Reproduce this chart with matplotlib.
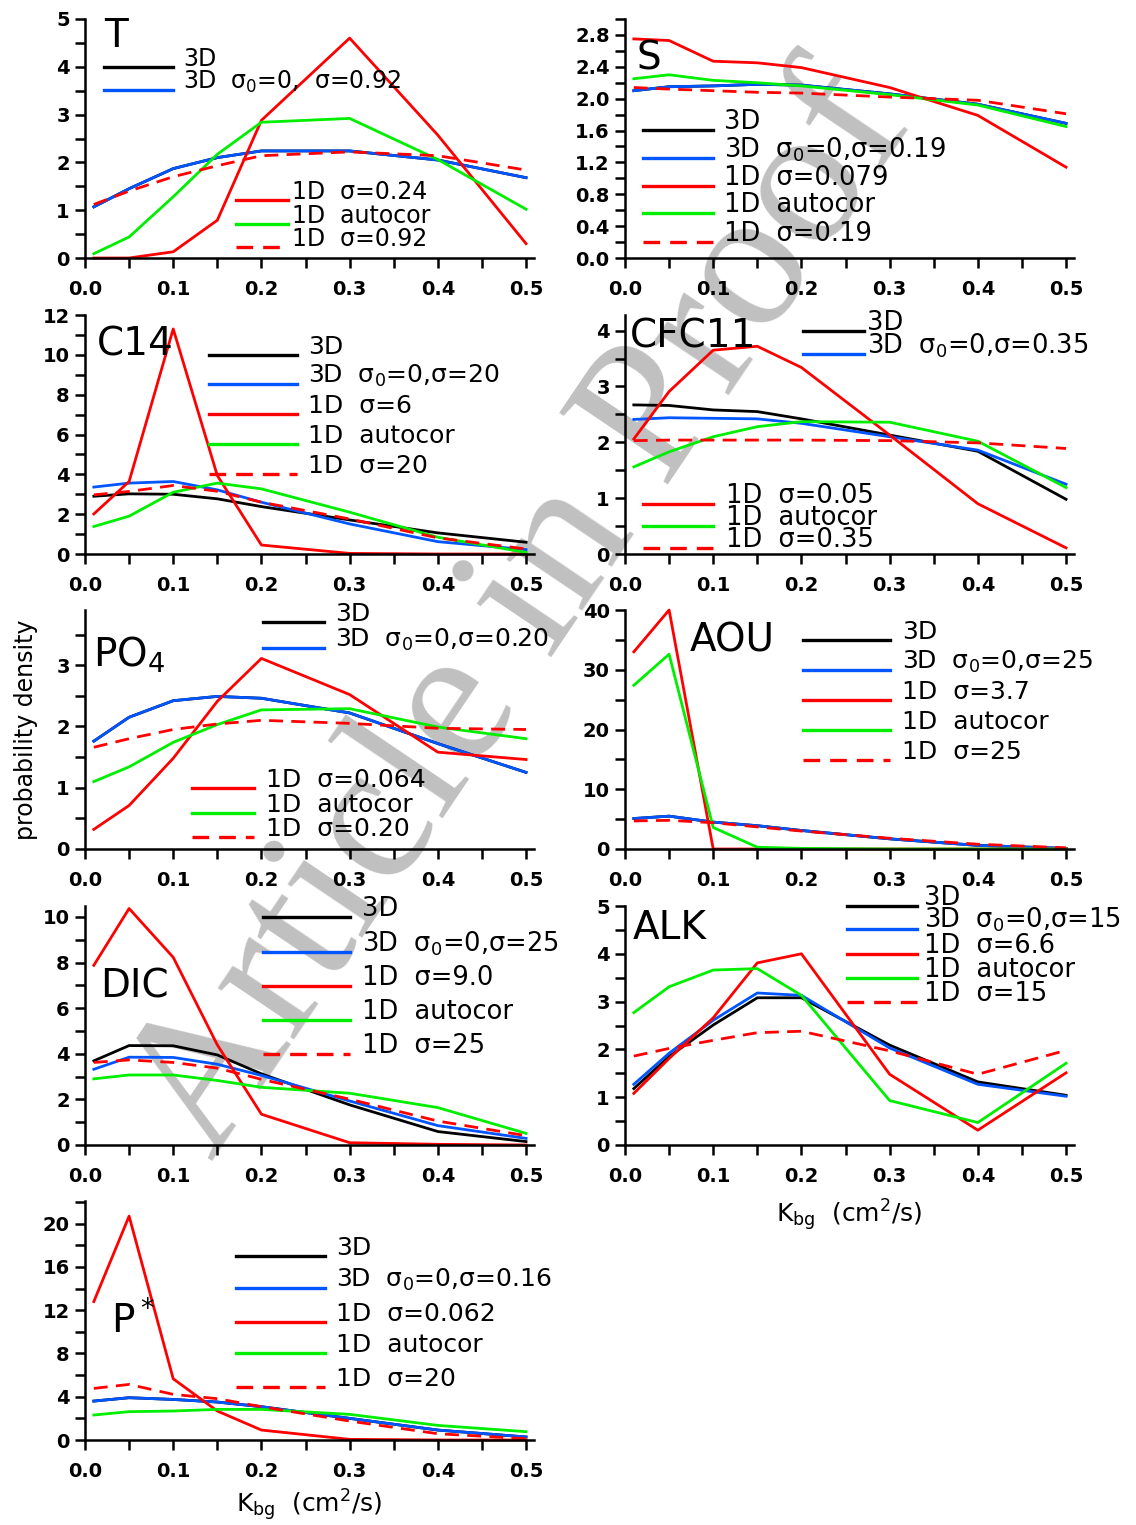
import matplotlib.pyplot as plt
from matplotlib.ticker import MultipleLocator, FormatStrFormatter

# K_bg values where the densities are given
kbg = [0.01, 0.05, 0.1, 0.15, 0.2, 0.3, 0.4, 0.5]

# T
t_3d = [1.07, 1.45, 1.87, 2.10, 2.24, 2.24, 2.05, 1.68]
t_3d_obs = [1.07, 1.45, 1.87, 2.10, 2.24, 2.24, 2.05, 1.68]
t_1d = [0.00, 0.00, 0.13, 0.79, 2.88, 4.60, 2.57, 0.30]
t_auto = [0.09, 0.44, 1.28, 2.17, 2.84, 2.92, 2.06, 1.02]
t_1d_big = [1.12, 1.40, 1.70, 1.93, 2.14, 2.22, 2.14, 1.84]
t_labels = ["3D", "3D  σ$_0$=0,  σ=0.92", "1D  σ=0.24", "1D  autocor", "1D  σ=0.92"]

# S
s_3d = [2.10, 2.15, 2.16, 2.18, 2.17, 2.06, 1.93, 1.69]
s_3d_obs = [2.10, 2.15, 2.16, 2.18, 2.17, 2.06, 1.93, 1.69]
s_1d = [2.75, 2.73, 2.47, 2.45, 2.39, 2.14, 1.79, 1.14]
s_auto = [2.25, 2.30, 2.23, 2.20, 2.16, 2.05, 1.92, 1.65]
s_1d_big = [2.14, 2.12, 2.10, 2.08, 2.07, 2.02, 1.98, 1.81]
s_labels = ["3D", "3D  σ$_0$=0,σ=0.19", "1D  σ=0.079", "1D  autocor", "1D  σ=0.19"]

# C14
c14_3d = [2.90, 3.02, 3.00, 2.77, 2.38, 1.71, 1.06, 0.59]
c14_3d_obs = [3.36, 3.56, 3.64, 3.22, 2.60, 1.51, 0.62, 0.22]
c14_1d = [2.01, 3.64, 11.3, 3.94, 0.45, 0.03, 0.0, 0.0]
c14_auto = [1.38, 1.90, 3.10, 3.56, 3.27, 2.10, 0.84, 0.08]
c14_1d_big = [2.97, 3.14, 3.44, 3.15, 2.60, 1.76, 0.81, 0.25]
c14_labels = ["3D", "3D  σ$_0$=0,σ=20", "1D  σ=6", "1D  autocor", "1D  σ=20"]

# CFC11
cfc_3d = [2.67, 2.66, 2.58, 2.55, 2.42, 2.13, 1.84, 0.98]
cfc_3d_obs = [2.41, 2.44, 2.43, 2.42, 2.34, 2.10, 1.86, 1.25]
cfc_1d = [2.06, 2.91, 3.65, 3.72, 3.34, 2.13, 0.90, 0.11]
cfc_auto = [1.56, 1.83, 2.10, 2.28, 2.37, 2.36, 2.02, 1.19]
cfc_1d_big = [2.03, 2.04, 2.04, 2.04, 2.04, 2.03, 1.99, 1.89]
cfc_labels = ["3D", "3D  σ$_0$=0,σ=0.35", "1D  σ=0.05", "1D  autocor", "1D  σ=0.35"]

# PO4
po4_3d = [1.76, 2.15, 2.42, 2.49, 2.46, 2.22, 1.72, 1.25]
po4_3d_obs = [1.76, 2.15, 2.42, 2.49, 2.46, 2.22, 1.72, 1.25]
po4_1d = [0.32, 0.71, 1.48, 2.41, 3.11, 2.52, 1.58, 1.46]
po4_auto = [1.10, 1.34, 1.74, 2.03, 2.27, 2.29, 1.99, 1.80]
po4_1d_big = [1.66, 1.80, 1.95, 2.04, 2.10, 2.05, 1.97, 1.95]
po4_labels = ["3D", "3D  σ$_0$=0,σ=0.20", "1D  σ=0.064", "1D  autocor", "1D  σ=0.20"]

# AOU
aou_3d = [5.1, 5.5, 4.5, 3.9, 3.1, 1.7, 0.6, 0.1]
aou_3d_obs = [5.1, 5.5, 4.5, 3.9, 3.1, 1.7, 0.6, 0.1]
aou_1d = [33.0, 40.0, 0.0, 0.0, 0.0, 0.0, 0.0, 0.0]
aou_auto = [27.4, 32.6, 3.6, 0.3, 0.1, 0.0, 0.0, 0.0]
aou_1d_big = [4.7, 4.8, 4.4, 3.7, 3.0, 1.8, 0.8, 0.2]
aou_labels = ["3D", "3D  σ$_0$=0,σ=25", "1D  σ=3.7", "1D  autocor", "1D  σ=25"]

# DIC
dic_3d = [3.69, 4.36, 4.35, 3.95, 3.12, 1.76, 0.59, 0.15]
dic_3d_obs = [3.32, 3.85, 3.84, 3.54, 3.05, 1.93, 0.85, 0.29]
dic_1d = [7.88, 10.37, 8.23, 4.39, 1.35, 0.10, 0.03, 0.0]
dic_auto = [2.90, 3.07, 3.07, 2.83, 2.53, 2.27, 1.64, 0.51]
dic_1d_big = [3.62, 3.73, 3.62, 3.37, 2.88, 2.01, 1.05, 0.41]
dic_labels = ["3D", "3D  σ$_0$=0,σ=25", "1D  σ=9.0", "1D  autocor", "1D  σ=25"]

# ALK
alk_3d = [1.18, 1.85, 2.51, 3.08, 3.08, 2.09, 1.32, 1.04]
alk_3d_obs = [1.27, 1.92, 2.61, 3.18, 3.13, 2.03, 1.27, 1.02]
alk_1d = [1.08, 1.81, 2.66, 3.81, 4.00, 1.48, 0.31, 1.51]
alk_auto = [2.77, 3.31, 3.66, 3.69, 3.13, 0.93, 0.47, 1.71]
alk_1d_big = [1.86, 2.02, 2.19, 2.35, 2.38, 1.97, 1.48, 1.98]
alk_labels = ["3D", "3D  σ$_0$=0,σ=15", "1D  σ=6.6", "1D  autocor", "1D  σ=15"]

# P*
pstar_3d = [3.60, 3.91, 3.75, 3.51, 3.08, 2.00, 0.92, 0.28]
pstar_3d_obs = [3.60, 3.91, 3.75, 3.51, 3.08, 2.00, 0.92, 0.28]
pstar_1d = [12.8, 20.7, 5.66, 2.68, 0.92, 0.06, 0.0, 0.0]
pstar_auto = [2.31, 2.62, 2.68, 2.83, 2.83, 2.37, 1.35, 0.77]
pstar_1d_big = [4.77, 5.14, 4.22, 3.82, 3.08, 1.75, 0.58, 0.12]
pstar_labels = ["3D", "3D  σ$_0$=0,σ=0.16", "1D  σ=0.062", "1D  autocor", "1D  σ=20"]

# line styles: 3D, 3D obs, 1D, 1D autocor, 1D big sigma
colors = ['#000000', '#0055ff', '#ff0000', '#00ee00', '#ff0000']
styles = ['-', '-', '-', '-', '--']

W, H = 1136, 1525
fig = plt.figure(figsize=(W / 100, H / 100), dpi=100)
LIGHT = dict(family='DejaVu Sans')


def fx(px):
    return px / W


def fy(py):
    return 1 - py / H


# name, series, labels, left px, bottom px, ylim, major, minor, fmt, title pos, legend groups, fontsize
# legend group: (entry indices, key row y px, key x0, key x1, text x)
panels = [
    ("T", [t_3d, t_3d_obs, t_1d, t_auto, t_1d_big], t_labels, 85, 258, 5, 1, 0.5, '%d', (104, 47),
     [([0, 1], [67, 90], 104, 173, 183), ([2, 3, 4], [200, 224, 247], 236, 288, 292)], 17),
    ("S", [s_3d, s_3d_obs, s_1d, s_auto, s_1d_big], s_labels, 625, 258, 3.0, 0.4, 0.2, '%.1f', (637, 69),
     [([0, 1, 2, 3, 4], [130, 158, 186, 213, 242], 643, 713, 724)], 18.5),
    ("C14", [c14_3d, c14_3d_obs, c14_1d, c14_auto, c14_1d_big], c14_labels, 85, 554, 12, 2, 1, '%d', (97, 356),
     [([0, 1, 2, 3, 4], [355, 384, 414, 444, 474], 209, 297, 308)], 18),
    ("CFC11", [cfc_3d, cfc_3d_obs, cfc_1d, cfc_auto, cfc_1d_big], cfc_labels, 625, 554, 4.28, 1, 0.5, '%d', (630, 348),
     [([0, 1], [331, 354], 803, 864, 867), ([2, 3, 4], [504, 526, 548], 643, 713, 726)], 18.5),
    ("PO$_4$", [po4_3d, po4_3d_obs, po4_1d, po4_auto, po4_1d_big], po4_labels, 85, 849, 3.9, 1, 0.5, '%d', (93, 667),
     [([0, 1], [622, 648], 263, 324, 335), ([2, 3, 4], [788, 813, 837], 192, 254, 266)], 18),
    ("AOU", [aou_3d, aou_3d_obs, aou_1d, aou_auto, aou_1d_big], aou_labels, 625, 849, 40, 10, 5, '%d', (690, 652),
     [([0, 1, 2, 3, 4], [640, 670, 700, 730, 760], 803, 890, 902)], 18),
    ("DIC", [dic_3d, dic_3d_obs, dic_1d, dic_auto, dic_1d_big], dic_labels, 85, 1145, 10.48, 2, 1, '%d', (100, 998),
     [([0, 1, 2, 3, 4], [917, 952, 986, 1020, 1054], 263, 350, 362)], 18.5),
    ("ALK", [alk_3d, alk_3d_obs, alk_1d, alk_auto, alk_1d_big], alk_labels, 625, 1145, 5, 1, 0.5, '%d', (633, 939),
     [([0, 1, 2, 3, 4], [906, 929, 954, 978, 1002], 847, 917, 924)], 18.5),
    ("P$^*$", [pstar_3d, pstar_3d_obs, pstar_1d, pstar_auto, pstar_1d_big], pstar_labels, 85, 1440, 22.1, 4, 2, '%d', (111, 1332),
     [([0, 1, 2, 3, 4], [1256, 1288, 1322, 1353, 1387], 236, 325, 336)], 18),
]

axes = []
for (name, series, labels, left, bottom, ytop, major, minor, fmt, tpos, groups, fs) in panels:
    ax = fig.add_axes([fx(left), fy(bottom), fx(449), 239 / H])
    ax.set_facecolor('none')
    for vals, c, ls in zip(series, colors, styles):
        line, = ax.plot(kbg, vals, color=c, linestyle=ls, lw=2.0, clip_on=False)
        if ls == '--':
            line.set_dashes((5, 3))
    ax.set_xlim(0, 0.509)
    ax.set_ylim(0, ytop)
    ax.xaxis.set_major_locator(MultipleLocator(0.1))
    ax.xaxis.set_minor_locator(MultipleLocator(0.05))
    ax.xaxis.set_major_formatter(FormatStrFormatter('%.1f'))
    ax.yaxis.set_major_locator(MultipleLocator(major))
    ax.yaxis.set_minor_locator(MultipleLocator(minor))
    ax.yaxis.set_major_formatter(FormatStrFormatter(fmt))
    for s in ['top', 'right']:
        ax.spines[s].set_visible(False)
    for s in ['left', 'bottom']:
        ax.spines[s].set_linewidth(1.8)
    ax.tick_params(which='both', direction='out', length=7, width=1.8)
    ax.tick_params(axis='x', which='major', pad=9)
    ax.tick_params(axis='y', which='major', pad=4)
    for lab in ax.get_xticklabels() + ax.get_yticklabels():
        lab.set_fontsize(14)
        lab.set_fontweight('bold')

    # panel name
    ax.text(fx(tpos[0]), fy(tpos[1]), name, transform=fig.transFigure, fontsize=28,
            ha='left', va='baseline', **LIGHT)

    # legend keys and labels
    for idx, ys, x0, x1, xt in groups:
        for i, y in zip(idx, ys):
            key, = ax.plot([fx(x0), fx(x1)], [fy(y), fy(y)], transform=fig.transFigure,
                           color=colors[i], linestyle=styles[i], lw=2.4, clip_on=False)
            if styles[i] == '--':
                key.set_dashes((5, 3))
            ax.text(fx(xt), fy(y - 1), labels[i], transform=fig.transFigure, fontsize=fs,
                    ha='left', va='baseline', **LIGHT)
    axes.append(ax)

axes[4].set_ylabel('probability density', fontsize=17, labelpad=13, **LIGHT)
axes[7].set_xlabel(r'K$_\mathrm{bg}$  (cm$^2$/s)', fontsize=18, labelpad=8, **LIGHT)
axes[8].set_xlabel(r'K$_\mathrm{bg}$  (cm$^2$/s)', fontsize=18, labelpad=4, **LIGHT)

# watermark, behind the curves
fig.text(fx(522), fy(615), 'Article in Proof', rotation=56, fontsize=144,
         family='Liberation Serif', color='0.45', alpha=0.45, ha='center', va='center', zorder=-1)

fig.savefig('out.png', dpi=100)
